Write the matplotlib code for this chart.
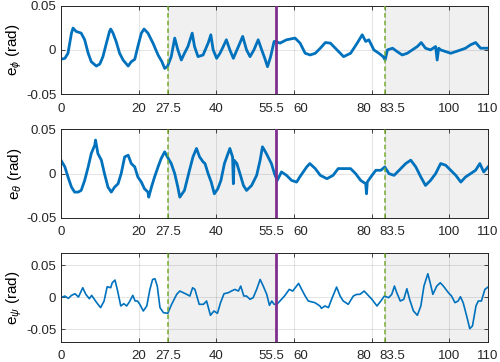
"""Attitude error plot: e_phi, e_theta, e_psi over time with phase shading."""
import matplotlib
matplotlib.use("Agg")
import matplotlib.pyplot as plt
import matplotlib.transforms as mtransforms

plt.rcParams["font.family"] = ["Liberation Sans", "DejaVu Sans"]
plt.rcParams["mathtext.fontset"] = "custom"
plt.rcParams["mathtext.it"] = "Liberation Sans:italic"
plt.rcParams["mathtext.rm"] = "Liberation Sans"

# ---- data ----
t_phi = [0, 1.0, 1.8, 2.7, 3.1, 3.9, 5.2, 6.1, 7.0, 7.8, 9.1, 10.0, 10.8, 11.7,
         12.5, 12.8, 13.4, 14.2, 15.1, 16.0, 17.3, 18.1, 19.0, 19.8, 20.7, 21.4,
         22.4, 23.7, 25.0, 26.0, 26.7, 27.4, 28.4, 29.3, 30.1, 31.0, 31.8, 32.7,
         33.8, 34.4, 35.3, 36.6, 37.9, 38.6, 39.2, 40.1, 40.95, 41.8, 42.6, 43.5,
         44.4, 45.7, 46.8, 47.8, 48.7, 49.7, 50.8, 51.7, 52.5, 53.2, 54.0, 54.9,
         55.4, 56.4, 58.1, 60.3, 61.6, 62.9, 64.2, 65.5, 66.8, 68.1, 69.4, 71.1,
         72.8, 74.6, 76.3, 77.6, 78.5, 79.3, 80.6, 81.9, 83.0, 83.5, 84.1, 85.4,
         86.6, 87.9, 89.2, 90.5, 91.8, 92.8, 93.9, 95.2, 96.5, 96.9, 97.3, 97.8,
         99.1, 100.4, 101.7, 103.0, 104.2, 105.5, 106.8, 108.1, 109.4, 110]
e_phi = [-0.0106, -0.0095, -0.0038, 0.0189, 0.0246, 0.0208, 0.0189, 0.0114,
         -0.0038, -0.0133, -0.0182, -0.0159, -0.0076, 0.0076, 0.0208, 0.0235,
         0.0189, 0.0095, -0.0038, -0.0114, -0.0182, -0.0133, -0.0106, 0.0038,
         0.0189, 0.0235, 0.0189, 0.0076, -0.0057, -0.0133, -0.0208, -0.0189,
         -0.0076, 0.0133, 0.0, -0.0114, -0.0038, 0.0038, 0.0189, 0.0038, -0.0076,
         -0.0057, 0.0076, 0.0170, 0.0, -0.0095, -0.0038, 0.0038, 0.0114, 0.0,
         -0.0095, 0.0038, 0.0152, 0.0, -0.0076, 0.0, 0.0114, 0.0, -0.0095,
         -0.0189, -0.0076, 0.0095, 0.0095, 0.0076, 0.0114, 0.0133, 0.0076,
         -0.0038, -0.0057, -0.0038, 0.0019, 0.0083, 0.0076, 0.0, -0.0076,
         -0.0038, 0.0076, 0.0170, 0.0095, 0.0114, 0.0, -0.0038, -0.0076, -0.0114,
         0.0, 0.0019, -0.0019, -0.0057, -0.0038, 0.0, 0.0038, 0.0083, 0.0019,
         0.0, 0.0038, -0.0114, 0.0019, 0.0, -0.0019, -0.0038, -0.0019, 0.0,
         0.0019, 0.0057, 0.0083, 0.0019, 0.0019, 0.0019]

t_theta = [0, 1.0, 1.8, 2.7, 3.5, 4.4, 5.2, 6.1, 7.0, 7.8, 8.7, 8.9, 9.5, 10.4,
           11.2, 12.1, 12.96, 13.8, 14.7, 15.5, 16.4, 17.3, 18.1, 19.0, 19.8,
           20.7, 21.5, 22.4, 22.6, 23.3, 24.1, 25.0, 25.8, 26.7, 27.4, 28.4,
           29.3, 30.1, 30.6, 31.8, 33.1, 34.0, 34.9, 35.7, 36.6, 37.1, 37.9,
           38.7, 39.5, 40.4, 41.2, 42.1, 43.5, 44.2, 44.4, 44.6, 45.3, 46.1,
           47.0, 47.8, 49.1, 50.4, 51.3, 51.9, 52.9, 54.2, 55.0, 55.7, 56.8,
           58.1, 59.4, 60.7, 61.5, 63.3, 64.1, 65.5, 66.8, 68.5, 70.1, 71.4,
           72.9, 74.6, 75.9, 77.2, 78.5, 78.7, 78.9, 79.8, 81.1, 82.4, 83.4,
           84.5, 85.8, 87.1, 88.8, 90.1, 91.4, 92.7, 93.9, 95.2, 96.5, 97.8,
           99.1, 100.4, 101.7, 103.0, 104.2, 105.5, 106.8, 107.9, 108.9, 110]
e_theta = [0.0152, 0.0076, -0.0038, -0.0152, -0.0208, -0.0208, -0.0189, -0.0076,
           0.0076, 0.0227, 0.0322, 0.0379, 0.0227, 0.0152, 0.0, -0.0152, -0.0208,
           -0.0152, -0.0114, 0.0, 0.0189, 0.0208, 0.0114, 0.0076, -0.0038,
           -0.0095, -0.0170, -0.0208, -0.0265, -0.0152, -0.0038, 0.0076, 0.0170,
           0.0246, 0.0189, 0.0114, 0.0, -0.0152, -0.0265, -0.0189, 0.0038, 0.0189,
           0.0284, 0.0189, 0.0133, 0.0114, 0.0, -0.0095, -0.0227, -0.0170,
           -0.0076, 0.0114, 0.0284, 0.0189, -0.0114, 0.0152, 0.0114, 0.0, -0.0133,
           -0.0189, -0.0133, -0.0019, 0.0152, 0.0303, 0.0227, 0.0114, 0.0,
           -0.0076, 0.0019, -0.0019, -0.0076, -0.0095, -0.0038, 0.0076, 0.0114,
           0.0057, -0.0019, -0.0057, -0.0019, 0.0057, 0.0057, 0.0057, 0.0,
           -0.0076, -0.0114, -0.0227, -0.0095, -0.0038, 0.0038, 0.0038, 0.0076,
           0.0, -0.0019, 0.0038, 0.0114, 0.0152, 0.0076, -0.0038, -0.0133,
           -0.0076, 0.0, 0.0114, 0.0095, 0.0038, -0.0019, -0.0095, -0.0038, 0.0,
           0.0038, 0.0114, 0.0019, 0.0076]

t_psi = [0, 1.0, 1.9, 2.7, 3.6, 4.5, 5.6, 6.4, 7.3, 7.9, 9.2, 10.2, 11.1, 11.9,
         12.8, 13.2, 13.9, 14.5, 15.4, 16.2, 16.9, 17.6, 18.5, 19.1, 19.7, 20.3,
         21.2, 22.1, 22.9, 23.6, 24.2, 24.8, 25.5, 26.4, 27.5, 28.5, 29.8, 30.6,
         31.5, 32.4, 33.2, 33.9, 34.5, 35.6, 36.7, 37.5, 38.5, 39.4, 40.3, 41.1,
         42.0, 43.1, 43.9, 44.8, 45.7, 46.3, 47.1, 47.8, 48.7, 49.5, 50.4, 51.3,
         52.1, 53.0, 53.7, 54.3, 54.9, 55.6, 56.8, 57.7, 58.8, 59.7, 61.2, 62.0,
         62.9, 63.7, 65.4, 66.7, 67.1, 68.0, 68.9, 69.7, 71.0, 71.9, 72.7, 74.0,
         75.3, 76.2, 77.0, 78.1, 78.9, 80.1, 81.4, 82.4, 83.3, 84.4, 85.2, 85.9,
         86.5, 87.4, 88.3, 89.1, 89.8, 90.8, 91.8, 92.7, 93.5, 94.5, 95.1, 95.8,
         96.8, 97.7, 98.5, 99.8, 100.6, 101.5, 102.3, 102.9, 103.6, 104.5, 105.3,
         106.0, 106.9, 107.5, 108.3, 109.2, 110]
e_psi = [-0.0005, 0.0021, -0.0016, 0.0031, 0.0057, 0.0005, 0.0151, 0.0047,
         -0.0021, 0.0031, -0.0083, -0.0161, -0.0057, 0.0167, 0.0151, 0.0229,
         0.0271, 0.0125, -0.0135, -0.0099, -0.0135, -0.0073, 0.0031, -0.0057,
         -0.0057, -0.0109, -0.0214, -0.0135, 0.0125, 0.0281, 0.0292, 0.0177,
         -0.0161, -0.0240, -0.0250, -0.0109, 0.0047, 0.0099, 0.0073, 0.0047,
         0.0021, 0.0151, 0.0125, -0.0109, -0.0109, -0.0057, -0.0281, -0.0214,
         -0.0250, -0.0083, 0.0057, 0.0073, 0.0099, 0.0125, 0.0099, 0.0177,
         0.0021, 0.0021, -0.0031, -0.0005, 0.0125, 0.0281, 0.0177, 0.0047,
         -0.0125, -0.0057, -0.0109, -0.0109, -0.0031, 0.0031, 0.0125, 0.0099,
         0.0219, 0.0125, 0.0021, -0.0057, -0.0083, -0.0135, -0.0172, -0.0135,
         -0.0161, -0.0031, 0.0161, 0.0021, -0.0057, -0.0109, 0.0021, 0.0047,
         0.0047, 0.0099, 0.0047, -0.0031, -0.0135, -0.0057, 0.0021, -0.0005,
         0.0047, 0.0177, 0.0073, -0.0057, -0.0031, 0.0135, -0.0031, -0.0214,
         -0.0281, -0.0135, 0.0177, 0.0370, 0.0229, 0.0047, 0.0177, 0.0229,
         0.0177, 0.0073, 0.0021, -0.0083, -0.0057, 0.0010, -0.0083, -0.0292,
         -0.0490, -0.0448, -0.0135, -0.0057, -0.0057, 0.0125, 0.0161]

xticks = [0, 20, 27.5, 40, 55.5, 60, 80, 83.5, 100, 110]
xtick_labels = ["0", "20", "27.5", "40", "55.5", "60", "80", "83.5", "100", "110"]
# crowded labels are nudged sideways in the original (pixels)
label_nudge = {"55.5": -5, "60": 6.5, "80": -8, "83.5": 7}
shaded = [(27.5, 55.5), (83.5, 110)]
switch_dashed = [27.5, 83.5]
switch_solid = 55.5

panels = [
    (t_phi, e_phi, r"e$_\phi$ (rad)", (-0.05, 0.05), 2.0),
    (t_theta, e_theta, r"e$_\theta$ (rad)", (-0.05, 0.05), 2.0),
    (t_psi, e_psi, r"e$_\psi$ (rad)", (-0.07, 0.07), 1.2),
]
# axes rectangles in figure fractions (left, bottom, width, height)
rects = [(0.122, 0.7395, 0.854, 0.2453),
         (0.122, 0.3978, 0.854, 0.2450),
         (0.122, 0.0552, 0.854, 0.2467)]

fig = plt.figure(figsize=(5, 3.62), dpi=100)
for (t, e, lab, ylim, lw), rect in zip(panels, rects):
    ax = fig.add_axes(rect)
    for a, b in shaded:
        ax.axvspan(a, b, color="#f0f0f0", lw=0, zorder=0)
    ax.plot(t, e, color="#0072BD", lw=lw, zorder=2)
    for xv in switch_dashed:
        ax.axvline(xv, color="#77AC30", ls=(0, (3, 2)), lw=1.1, zorder=3)
    ax.axvline(switch_solid, color="#7E2F8E", lw=2.0, zorder=3)

    ax.set_xlim(0, 110)
    ax.set_ylim(*ylim)
    ax.set_xticks(xticks)
    ax.set_xticklabels(xtick_labels)
    ax.set_yticks([-0.05, 0, 0.05])
    ax.set_yticklabels(["-0.05", "0", "0.05"])
    ax.set_ylabel(lab, fontsize=11, labelpad=1)
    ax.grid(True, color="#000000", alpha=0.1, lw=0.8)
    ax.tick_params(direction="in", length=3, width=0.6, top=True, right=True,
                   labelsize=9.5, colors="#262626")
    ax.tick_params(axis="x", pad=6)
    for lbl in ax.get_xticklabels():
        dx = label_nudge.get(lbl.get_text(), 0) / fig.dpi
        lbl.set_transform(lbl.get_transform()
                          + mtransforms.ScaledTranslation(dx, 0, fig.dpi_scale_trans))
    for s in ax.spines.values():
        s.set_color("#262626")
        s.set_linewidth(0.7)

fig.savefig("out.png", dpi=100)
